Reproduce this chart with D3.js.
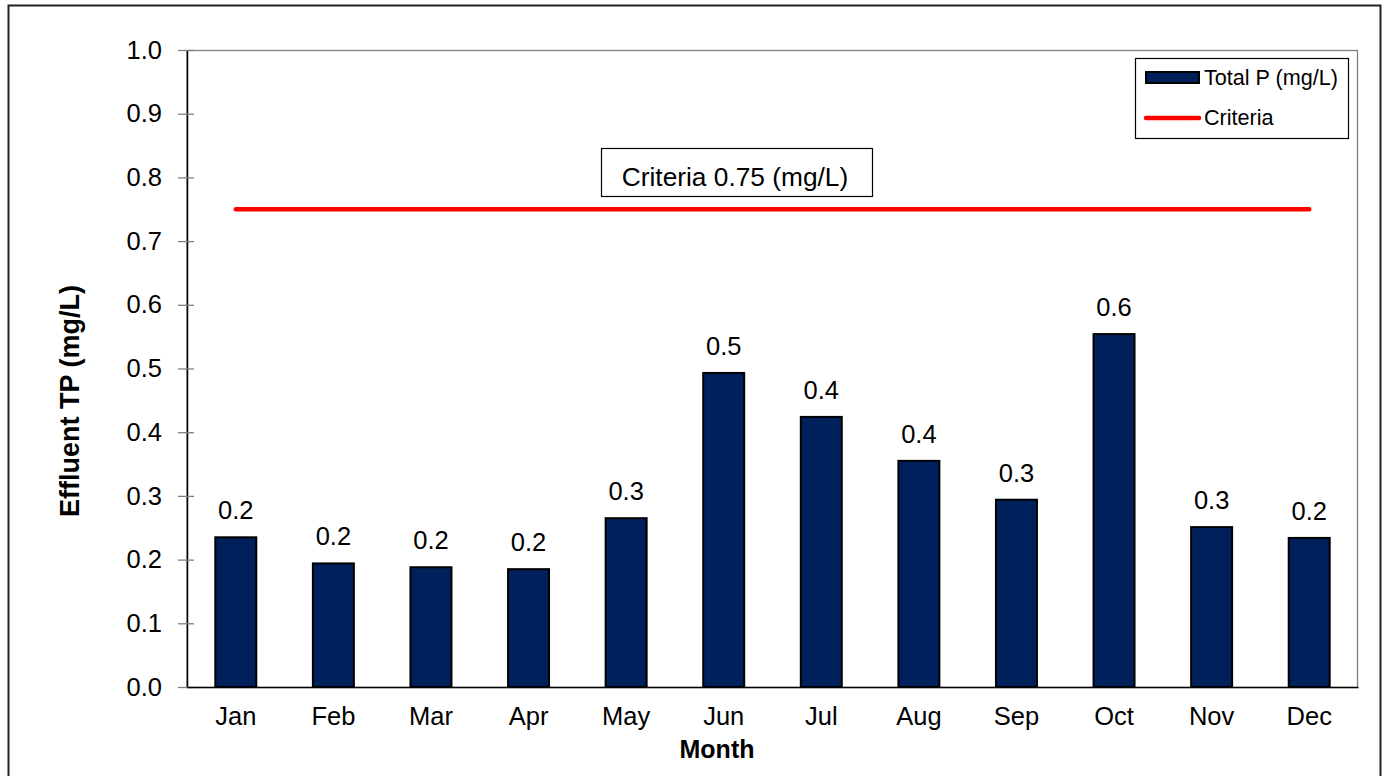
<!DOCTYPE html>
<html>
<head>
<meta charset="utf-8">
<script src="https://cdn.jsdelivr.net/npm/d3@7"></script>
<style>
html,body{margin:0;padding:0;background:#fff;}
svg{display:block;font-family:"Liberation Sans",Arial,sans-serif;}
</style>
</head>
<body>
<svg id="chart" width="1386" height="776"></svg>
<script>
const months = ["Jan","Feb","Mar","Apr","May","Jun","Jul","Aug","Sep","Oct","Nov","Dec"];
const totalP = [0.235,0.194,0.188,0.185,0.265,0.493,0.424,0.355,0.294,0.554,0.251,0.234];
const criteria = 0.75;
const yTicks = [0,0.1,0.2,0.3,0.4,0.5,0.6,0.7,0.8,0.9,1.0];
const seriesNames = ["Total P (mg/L)","Criteria"];
const criteriaLabel = "Criteria 0.75 (mg/L)";
const xTitle = "Month";
const yTitle = "Effluent TP (mg/L)";

const svg = d3.select("#chart");
const L = 187, R = 1358, T = 50, B = 687;
const navy = "#00205b";
const FS = 25.5;

// outer frame
svg.append("rect").attr("x",8.5).attr("y",5.5).attr("width",1372).attr("height",790)
  .attr("fill","#fff").attr("stroke","#222").attr("stroke-width",2);

const x = d3.scaleBand().domain(months).range([L,R]).paddingInner(0.58).paddingOuter(0.29);
const y = d3.scaleLinear().domain([0,1]).range([B,T]);

// plot area border (top/right gray)
svg.append("rect").attr("x",L).attr("y",T+0.5).attr("width",R-L-0.5).attr("height",B-T)
  .attr("fill","none").attr("stroke","#7f7f7f").attr("stroke-width",1.3);

// bars
svg.append("g").selectAll("rect").data(months).join("rect")
  .attr("x",(d)=>x(d)).attr("width",x.bandwidth())
  .attr("y",(d,i)=>y(totalP[i])).attr("height",(d,i)=>y(0)-y(totalP[i]))
  .attr("fill",navy).attr("stroke","#000").attr("stroke-width",2);

// value labels
svg.append("g").selectAll("text").data(months).join("text")
  .attr("x",(d)=>x(d)+x.bandwidth()/2).attr("y",(d,i)=>y(totalP[i])-18)
  .attr("text-anchor","middle").attr("font-size",FS).attr("fill","#000")
  .text((d,i)=>d3.format(".1f")(totalP[i]));

// criteria line
const cx0 = x(months[0])+x.bandwidth()/2, cx1 = x(months[months.length-1])+x.bandwidth()/2;
svg.append("line").attr("x1",cx0).attr("x2",cx1).attr("y1",y(criteria)).attr("y2",y(criteria))
  .attr("stroke","#ff0000").attr("stroke-width",4.5).attr("stroke-linecap","round");

// y axis
const yAxis = d3.axisLeft(y).tickValues(yTicks).tickFormat(d3.format(".1f")).tickSizeInner(9).tickSizeOuter(0).tickPadding(16);
const gy = svg.append("g").attr("transform",`translate(${L},0)`).call(yAxis);
gy.select(".domain").attr("stroke","#000").attr("stroke-width",1.5);
gy.selectAll(".tick line").attr("stroke","#7f7f7f").attr("stroke-width",1.3).attr("x2",-9).attr("x1",7);
gy.selectAll(".tick text").attr("font-size",FS).attr("fill","#000").attr("font-family","Liberation Sans, Arial, sans-serif");

// x axis
const xAxis = d3.axisBottom(x).tickSize(0).tickPadding(20);
const gx = svg.append("g").attr("transform",`translate(0,${B})`).call(xAxis);
gx.select(".domain").attr("stroke","#000").attr("stroke-width",1.5);
gx.selectAll(".tick text").attr("font-size",FS).attr("fill","#000").attr("font-family","Liberation Sans, Arial, sans-serif");

// titles
svg.append("text").attr("x",717).attr("y",758).attr("text-anchor","middle")
  .attr("font-size",25).attr("font-weight","bold").text(xTitle);
svg.append("text").attr("transform","translate(79,401) rotate(-90)").attr("text-anchor","middle")
  .attr("font-size",27).attr("font-weight","bold").text(yTitle);

// criteria label box
svg.append("rect").attr("x",601.5).attr("y",148.5).attr("width",271).attr("height",48)
  .attr("fill","#fff").attr("stroke","#000").attr("stroke-width",1.2);
svg.append("text").attr("x",735).attr("y",186).attr("text-anchor","middle")
  .attr("font-size",26.3).text(criteriaLabel);

// legend
const lg = svg.append("g");
lg.append("rect").attr("x",1135.5).attr("y",58.5).attr("width",213).attr("height",80)
  .attr("fill","#fff").attr("stroke","#000").attr("stroke-width",1.2);
lg.append("rect").attr("x",1146).attr("y",72).attr("width",53).attr("height",11)
  .attr("fill",navy).attr("stroke","#000").attr("stroke-width",2);
lg.append("text").attr("x",1204).attr("y",85).attr("font-size",21.6).text(seriesNames[0]);
lg.append("line").attr("x1",1146).attr("x2",1199).attr("y1",118).attr("y2",118)
  .attr("stroke","#ff0000").attr("stroke-width",4.5).attr("stroke-linecap","round");
lg.append("text").attr("x",1204).attr("y",125).attr("font-size",21.6).text(seriesNames[1]);
</script>
</body>
</html>
